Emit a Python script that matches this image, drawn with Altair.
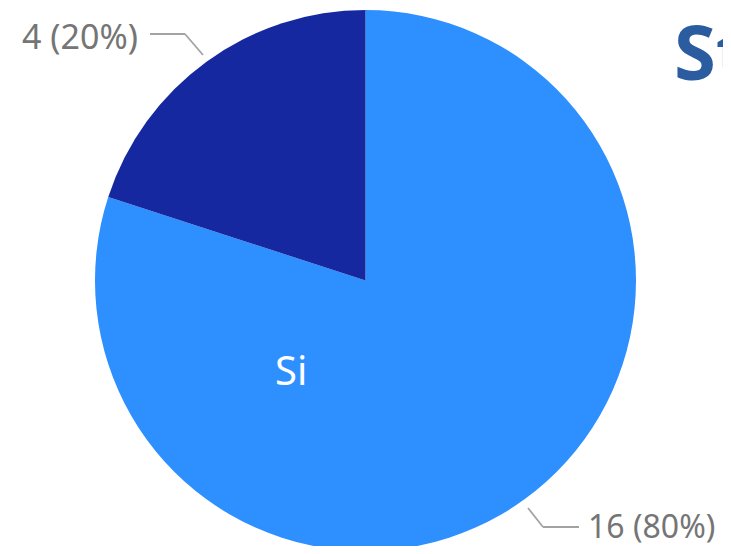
import altair as alt
import pandas as pd

categories = ["Si", "No"]
counts = [16, 4]
colors = ["#2E8FFF", "#15289F"]
value_labels = ["16 (80%)", "4 (20%)"]

df = pd.DataFrame({"cat": categories, "n": counts, "ord": [0, 1]})

CX, CY, R = 357.5, 272.5, 270.5

pie = alt.Chart(df).mark_arc(radius=R).encode(
    theta=alt.Theta("n:Q", stack=True),
    color=alt.Color("cat:N", scale=alt.Scale(domain=categories, range=colors), legend=None),
    order=alt.Order("ord:Q", sort="ascending"),
    x=alt.value(CX),
    y=alt.value(CY),
)

# leader lines (annotation)
seg = pd.DataFrame({
    "x": [142, 177, 520, 535],
    "y": [26, 26, 500, 519],
    "x2": [177, 195, 535, 571],
    "y2": [26, 47, 519, 519],
})
lines = alt.Chart(seg).mark_rule(color="#A3A3A3", strokeWidth=1.8).encode(
    x=alt.X("x:Q", scale=None), y=alt.Y("y:Q", scale=None),
    x2="x2:Q", y2="y2:Q",
)

lab = pd.DataFrame({"t": [value_labels[1], value_labels[0]], "x": [14, 580],
                    "y": [41, 530], "fs": [34, 32]})
labels = alt.Chart(lab).mark_text(align="left", baseline="alphabetic", font="Noto Sans",
                                  color="#757575").encode(
    x=alt.X("x:Q", scale=None), y=alt.Y("y:Q", scale=None), text="t:N",
    size=alt.Size("fs:Q", scale=None, legend=None))

si = alt.Chart(pd.DataFrame({"t": [categories[0]], "x": [267], "y": [377]})).mark_text(
    align="left", baseline="alphabetic", font="Noto Sans", fontSize=40, color="white").encode(
    x=alt.X("x:Q", scale=None), y=alt.Y("y:Q", scale=None), text="t:N")

title = alt.Chart(pd.DataFrame({"t": ["St"], "x": [666], "y": [72]})).mark_text(
    align="left", baseline="alphabetic", font="Open Sans", fontWeight="bold", fontSize=76,
    color="#2B5C9F").encode(
    x=alt.X("x:Q", scale=None), y=alt.Y("y:Q", scale=None), text="t:N")

chart = alt.layer(pie, lines, labels, si, title).properties(
    width=715, height=538, padding=0, autosize=alt.AutoSizeParams(type="none"),
).configure_view(stroke=None)

chart.save("out.html", embed_options={"renderer": "svg", "actions": False})
